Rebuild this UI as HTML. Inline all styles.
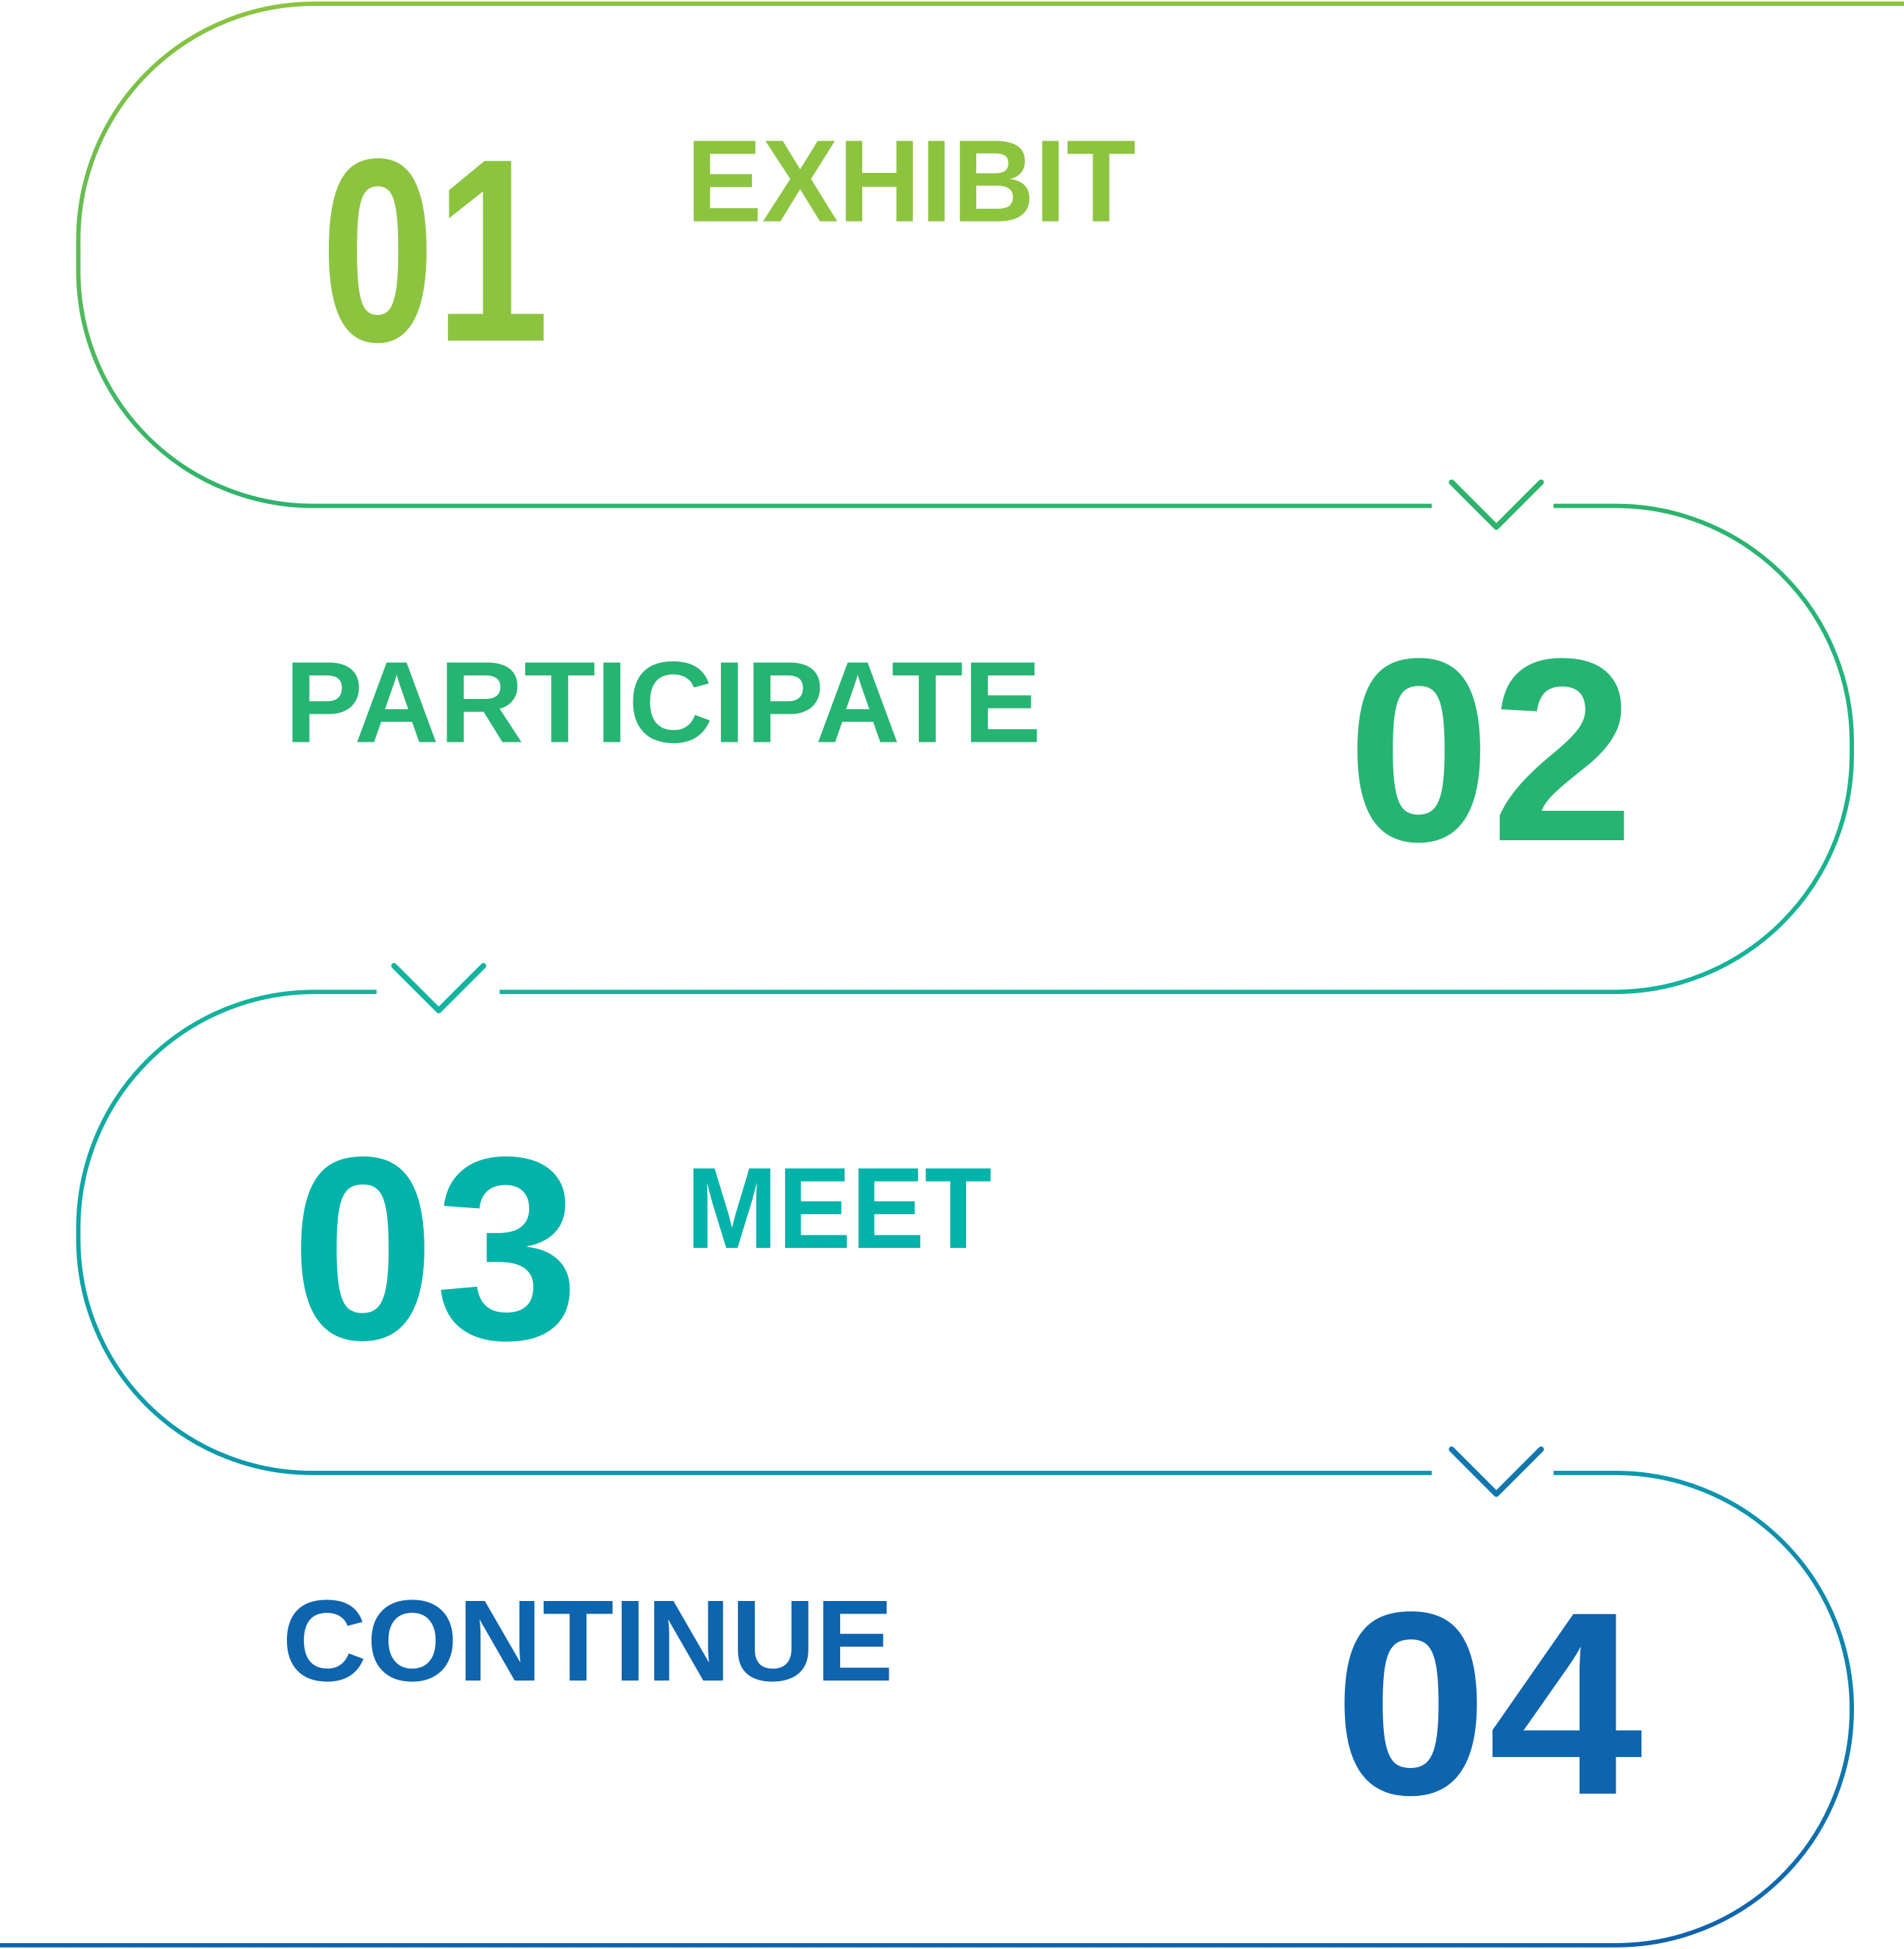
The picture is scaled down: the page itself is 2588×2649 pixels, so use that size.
<!DOCTYPE html>
<html>
<head>
<meta charset="utf-8">
<style>
html,body{margin:0;padding:0;background:#fff;}
svg{display:block;}
text{font-family:"Liberation Sans",sans-serif;font-weight:bold;}
</style>
</head>
<body>
<svg width="2588" height="2649" viewBox="0 0 1532 1568" preserveAspectRatio="none" xmlns="http://www.w3.org/2000/svg">
<defs>
<linearGradient id="g" gradientUnits="userSpaceOnUse" x1="0" y1="0" x2="0" y2="1568">
<stop offset="0" stop-color="#8cc43f"/>
<stop offset="0.26" stop-color="#2db46c"/>
<stop offset="0.51" stop-color="#12b39d"/>
<stop offset="0.76" stop-color="#0b98ae"/>
<stop offset="1" stop-color="#1062ae"/>
</linearGradient>
</defs>
<g fill="none" stroke="url(#g)" stroke-width="3.5">
<path d="M1532,3 H253 A190,190 0 0 0 63,193 V218 A189,189 0 0 0 252,407 H1152"/>
<path d="M1250,407 H1300 A190,190 0 0 1 1490,597 V607 A191,191 0 0 1 1300,798 H402"/>
<path d="M303,798 H252 A190,190 0 0 0 63,988 V998 A188,188 0 0 0 252,1185 H1152"/>
<path d="M1250,1185 H1300 A190,190 0 0 1 1490,1375 A190,190 0 0 1 1300,1565 H0"/>
</g>
<g fill="none" stroke-width="4.5" stroke-linecap="round" stroke-linejoin="round">
<polyline points="1168,388 1204,424 1240,388" stroke="#2db46c"/>
<polyline points="317,777 353,813 389,777" stroke="#12b3a0"/>
<polyline points="1168,1166 1204,1202 1240,1166" stroke="#1077b0"/>
</g>
<g fill="#8cc43f">
<text x="258" y="274" font-size="210" textLength="184" lengthAdjust="spacingAndGlyphs">01</text>
<text x="552" y="178" font-size="94" textLength="362" lengthAdjust="spacingAndGlyphs">EXHIBIT</text>
</g>
<g fill="#26b473">
<text x="229" y="597" font-size="93" textLength="609" lengthAdjust="spacingAndGlyphs">PARTICIPATE</text>
<text x="1084" y="676" font-size="210" textLength="231" lengthAdjust="spacingAndGlyphs">02</text>
</g>
<g fill="#02b3aa">
<text x="234" y="1077" font-size="210" textLength="232" lengthAdjust="spacingAndGlyphs">03</text>
<text x="552" y="1004" font-size="93" textLength="246" lengthAdjust="spacingAndGlyphs">MEET</text>
</g>
<g fill="#0f64ae">
<text x="227" y="1352" font-size="93" textLength="492" lengthAdjust="spacingAndGlyphs">CONTINUE</text>
<text x="1073" y="1443" font-size="210" textLength="249" lengthAdjust="spacingAndGlyphs">04</text>
</g>
</svg>
</body>
</html>
